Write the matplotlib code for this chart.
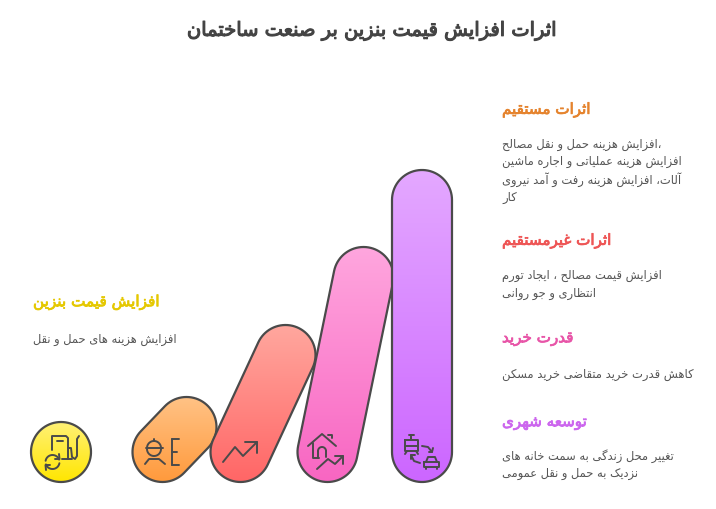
import numpy as np
import matplotlib
matplotlib.use('Agg')
import matplotlib.pyplot as plt
import matplotlib.patheffects as pe
from matplotlib.colors import LinearSegmentedColormap
from matplotlib.patches import PathPatch
from matplotlib.path import Path

plt.rcParams['font.family'] = ['DejaVu Sans']

# chart content
title = 'اثرات افزایش قیمت بنزین بر صنعت ساختمان'
left_head = 'افزایش قیمت بنزین'
left_body = ['افزایش هزینه های حمل و نقل']
heads = ['اثرات مستقیم', 'اثرات غیرمستقیم', 'قدرت خرید', 'توسعه شهری']
bodies = [
    ['،افزایش هزینه حمل و نقل مصالح', 'افزایش هزینه عملیاتی و اجاره ماشین',
     'آلات، افزایش هزینه رفت و آمد نیروی', 'کار'],
    ['افزایش قیمت مصالح ، ایجاد تورم', 'انتظاری و جو روانی'],
    ['کاهش قدرت خرید متقاضی خرید مسکن'],
    ['تغییر محل زندگی به سمت خانه های', 'نزدیک به حمل و نقل عمومی'],
]
head_colors = ['#E5832D', '#EE5555', '#E855A8', '#CC66EE']
head_y = [111, 242, 339, 423]
body_y = [[145, 162, 180, 198], [276, 294], [375], [456, 474]]

# bars, left to right (pixels above the base circle centre, and sideways lean)
bar_height = [0, 25, 97, 175, 252]
bar_lean = [0, 24, 45, 36, 0]
bar_x = [61, 162.5, 240.5, 327.5, 422]
bar_top_color = ['#FFF176', '#FFC285', '#FFA79E', '#FFA6DE', '#E4A8FF']
bar_low_color = ['#FFE600', '#FF9A3C', '#FF6666', '#F866C2', '#CC66FF']

# matplotlib does no arabic shaping, so pick the presentation forms by hand
# letter: isolated, final, initial, medial
FORMS = {
    'ا': (0xFE8D, 0xFE8E, None, None), 'آ': (0xFE81, 0xFE82, None, None),
    'د': (0xFEA9, 0xFEAA, None, None), 'ذ': (0xFEAB, 0xFEAC, None, None),
    'ر': (0xFEAD, 0xFEAE, None, None), 'ز': (0xFEAF, 0xFEB0, None, None),
    'و': (0xFEED, 0xFEEE, None, None),
    'ب': (0xFE8F, 0xFE90, 0xFE91, 0xFE92), 'پ': (0xFB56, 0xFB57, 0xFB58, 0xFB59),
    'ت': (0xFE95, 0xFE96, 0xFE97, 0xFE98), 'ث': (0xFE99, 0xFE9A, 0xFE9B, 0xFE9C),
    'ج': (0xFE9D, 0xFE9E, 0xFE9F, 0xFEA0), 'ح': (0xFEA1, 0xFEA2, 0xFEA3, 0xFEA4),
    'خ': (0xFEA5, 0xFEA6, 0xFEA7, 0xFEA8), 'س': (0xFEB1, 0xFEB2, 0xFEB3, 0xFEB4),
    'ش': (0xFEB5, 0xFEB6, 0xFEB7, 0xFEB8), 'ص': (0xFEB9, 0xFEBA, 0xFEBB, 0xFEBC),
    'ض': (0xFEBD, 0xFEBE, 0xFEBF, 0xFEC0), 'ط': (0xFEC1, 0xFEC2, 0xFEC3, 0xFEC4),
    'ظ': (0xFEC5, 0xFEC6, 0xFEC7, 0xFEC8), 'ع': (0xFEC9, 0xFECA, 0xFECB, 0xFECC),
    'غ': (0xFECD, 0xFECE, 0xFECF, 0xFED0), 'ف': (0xFED1, 0xFED2, 0xFED3, 0xFED4),
    'ق': (0xFED5, 0xFED6, 0xFED7, 0xFED8), 'ک': (0xFB8E, 0xFB8F, 0xFB90, 0xFB91),
    'گ': (0xFB92, 0xFB93, 0xFB94, 0xFB95), 'ل': (0xFEDD, 0xFEDE, 0xFEDF, 0xFEE0),
    'م': (0xFEE1, 0xFEE2, 0xFEE3, 0xFEE4), 'ن': (0xFEE5, 0xFEE6, 0xFEE7, 0xFEE8),
    'ه': (0xFEE9, 0xFEEA, 0xFEEB, 0xFEEC), 'ی': (0xFBFC, 0xFBFD, 0xFBFE, 0xFBFF),
}


def fa(s):
    out = []
    for i, c in enumerate(s):
        if c not in FORMS:
            out.append(c)
            continue
        prev = s[i - 1] if i > 0 else ''
        nxt = s[i + 1] if i + 1 < len(s) else ''
        joins_prev = prev in FORMS and FORMS[prev][2] is not None
        joins_next = nxt in FORMS and FORMS[c][2] is not None
        iso, fin, ini, med = FORMS[c]
        if joins_prev and joins_next:
            code = med
        elif joins_prev:
            code = fin
        elif joins_next:
            code = ini
        else:
            code = iso
        out.append(chr(code))
    return ''.join(out)[::-1]


def capsule(x0, y0, x1, y1, r):
    a = np.arctan2(y1 - y0, x1 - x0)
    t0 = np.linspace(a + np.pi / 2, a + 3 * np.pi / 2, 40)
    t1 = np.linspace(a - np.pi / 2, a + np.pi / 2, 40)
    px = np.r_[x0 + r * np.cos(t0), x1 + r * np.cos(t1), x0 + r * np.cos(t0[0])]
    py = np.r_[y0 + r * np.sin(t0), y1 + r * np.sin(t1), y0 + r * np.sin(t0[0])]
    return Path(np.c_[px, py], closed=True)


fig = plt.figure(figsize=(7.16, 5.1), dpi=100)
ax = fig.add_axes([0, 0, 1, 1])
base_y = 453
radius = 30

for i in range(len(bar_height)):
    xb = bar_x[i]
    xt = xb + bar_lean[i]
    yt = base_y - bar_height[i]
    path = capsule(xb, base_y, xt, yt, radius)
    ax.add_patch(PathPatch(path, fc='none', ec='#4A4A4A', lw=1.6, zorder=3 + i * 2))
    cmap = LinearSegmentedColormap.from_list('g', [bar_top_color[i], bar_low_color[i]])
    im = ax.imshow(np.linspace(0, 1, 200).reshape(-1, 1), cmap=cmap, aspect='auto',
                   extent=[xb - radius, xt + radius, base_y + radius, yt - radius],
                   origin='upper', zorder=2 + i * 2)
    im.set_clip_path(PathPatch(path, transform=ax.transData))

ic = dict(color='#4A4A4A', lw=1.4, solid_capstyle='round', solid_joinstyle='round', zorder=20)


def line(*pts):
    pts = np.array(pts)
    ax.plot(pts[:, 0], pts[:, 1], **ic)


def arc(cx, cy, r, a0, a1):
    t = np.radians(np.linspace(a0, a1, 30))
    ax.plot(cx + r * np.cos(t), cy + r * np.sin(t), **ic)


# fuel pump
line((52, 451), (52, 437), (66, 437), (68, 439), (68, 460))
line((62, 460), (72, 460))
line((57, 441.5), (63, 441.5))
line((68, 449), (71, 449), (72, 458), (75, 460), (77, 457), (77, 440), (79, 437))
arc(52.5, 463, 7, 190, 340)
arc(52.5, 463, 7, 10, 160)
line((59, 455), (59.5, 460), (55, 460))
line((46, 471), (45.5, 466), (50, 466))

# worker and plans
arc(154, 450, 7, 0, 180)
arc(154, 449, 7, 180, 360)
line((146, 449), (163, 449))
line((154, 440), (154, 442))
line((145, 465), (149, 460), (159, 460), (165, 465))
line((172, 440), (172, 466))
line((172, 440), (179, 440))
line((172, 466), (179, 466))
line((172, 453), (177, 453))

# rising arrow
line((223, 463), (235, 448), (243, 457), (257, 443))
line((245, 443), (257, 443), (257, 454))

# house and arrow
line((308, 447), (322, 435), (336, 447))
line((313, 444), (313, 459), (319, 459))
line((318, 459), (318, 452))
arc(322, 452, 4, 180, 360)
line((326, 452), (326, 458))
line((328, 436), (332, 436), (332, 439))
line((317, 470), (328, 460), (335, 465), (343, 457))
line((335, 457), (343, 457), (343, 465))

# train and car
line((405, 441), (418, 441), (418, 452), (405, 452), (405, 441))
line((409, 436), (414, 436))
line((411, 436), (411, 440))
line((405, 447), (418, 447))
line((407, 452), (405, 455))
line((416, 452), (418, 455))
line((422, 447), (428, 448), (432, 453))
line((429, 453), (432, 453), (433, 449))
line((420, 464), (414, 462), (411, 456))
line((411, 460), (411, 456), (415, 456))
line((426, 463), (428, 458), (435, 458), (437, 463))
line((424, 463), (439, 463), (439, 468), (424, 468), (424, 463))
line((426, 468), (426, 470))
line((437, 468), (437, 470))


def bold_text(x, y, s, size, color, ha='left', stroke=0.55):
    # dejavu bold runs far wider than the reference, so thicken the regular face
    t = ax.text(x, y, fa(s), ha=ha, va='center', fontsize=size, color=color)
    t.set_path_effects([pe.withStroke(linewidth=stroke, foreground=color)])


# texts
bold_text(373.5, 32, title, 14, '#444444', ha='center', stroke=0.8)
bold_text(33, 303, left_head, 11, '#E5C800')
ax.text(33, 340, fa(left_body[0]), ha='left', va='center', fontsize=8.3, color='#555555')
for i in range(len(heads)):
    bold_text(502, head_y[i], heads[i], 10.9, head_colors[i])
    for s, y in zip(bodies[i], body_y[i]):
        ax.text(502, y, fa(s), ha='left', va='center', fontsize=8.3, color='#555555')

ax.set_xlim(0, 716)
ax.set_ylim(510, 0)
ax.axis('off')
fig.savefig('out.png', dpi=100, facecolor='white')
